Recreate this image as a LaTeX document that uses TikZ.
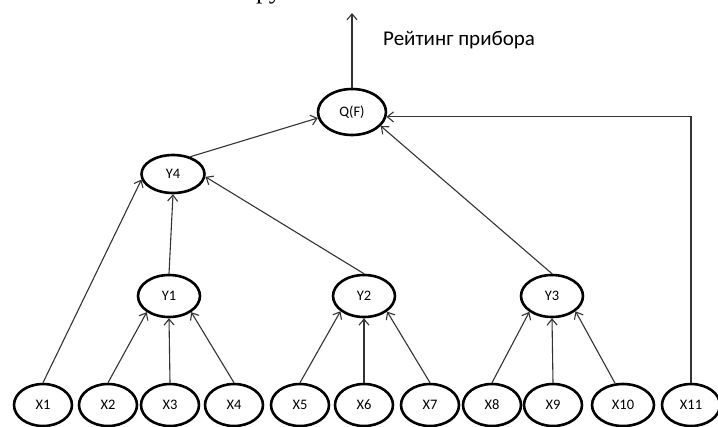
\documentclass[tikz,border=0pt]{standalone}
\usepackage{fontspec}
\setmainfont{Carlito}
\newfontfamily\serifru{Liberation Serif}
\usetikzlibrary{shapes.geometric,arrows.meta}
\begin{document}
\begin{tikzpicture}[x=1pt,y=-1pt,
  vtx/.style={ellipse,draw=black,line width=2.6pt,minimum width=58pt,minimum height=42pt,inner sep=0pt,font=\fontsize{14.5}{16}\selectfont},
  ynode/.style={vtx,minimum width=62pt,minimum height=42pt},
  edge/.style={draw=black!80,line width=1.1pt,-{Straight Barb[length=6pt,width=10pt]}}]
\fill[white] (0,0) rectangle (718,426);
\useasboundingbox (0,0) rectangle (718,426);
% top fragment (cut off by the page edge, as in the reference)
\node[anchor=base west,inner sep=0pt,font=\serifru\fontsize{26}{26}\selectfont] (frag) at (256,-2) {ру};
% nodes
\node[vtx,minimum width=68pt,minimum height=46pt] (q) at (352,112) {Q(F)};
\node[vtx,minimum width=63pt,minimum height=38pt] (y4) at (173,174) {Y4};
\node[ynode] (y1) at (169,296) {Y1};
\node[ynode] (y2) at (364,296) {Y2};
\node[ynode] (y3) at (552,296) {Y3};
\node[vtx] (x1) at (43,405) {X1};
\node[vtx] (x2) at (108,405) {X2};
\node[vtx] (x3) at (170,405) {X3};
\node[vtx] (x4) at (234,405) {X4};
\node[vtx] (x5) at (300,405) {X5};
\node[vtx] (x6) at (364,405) {X6};
\node[vtx] (x7) at (430,405) {X7};
\node[vtx] (x8) at (492,405) {X8};
\node[vtx] (x9) at (553,405) {X9};
\node[vtx,minimum width=62pt] (x10) at (623,405) {X10};
\node[vtx] (x11) at (691,405) {X11};
\coordinate (top) at (352,13);
\node[anchor=west,inner sep=0pt,font=\fontsize{21}{23}\selectfont] (lbl) at (383,40) {Рейтинг прибора};
% edges
\draw[edge] (q.north) -- (top);
\draw[edge] (y4.45) -- (q.190);
\draw[edge] (y3.north) -- (q.334);
\draw[edge] (x11.north) |- (q.352);
\draw[edge] (x1.north) -- (y4.190);
\draw[edge] (y1.north) -- (y4.south);
\draw[edge] (y2.north) -- (y4.355);
\draw[edge] (x2.north) -- (y1.216);
\draw[edge] (x3.north) -- (y1.south);
\draw[edge] (x4.north) -- (y1.324);
\draw[edge] (x5.north) -- (y2.213);
\draw[edge] (x6.north) -- (y2.south);
\draw[edge] (x7.north) -- (y2.326);
\draw[edge] (x8.north) -- (y3.215);
\draw[edge] (x9.north) -- (y3.south);
\draw[edge] (x10.110) -- (y3.327);
\end{tikzpicture}
\end{document}
